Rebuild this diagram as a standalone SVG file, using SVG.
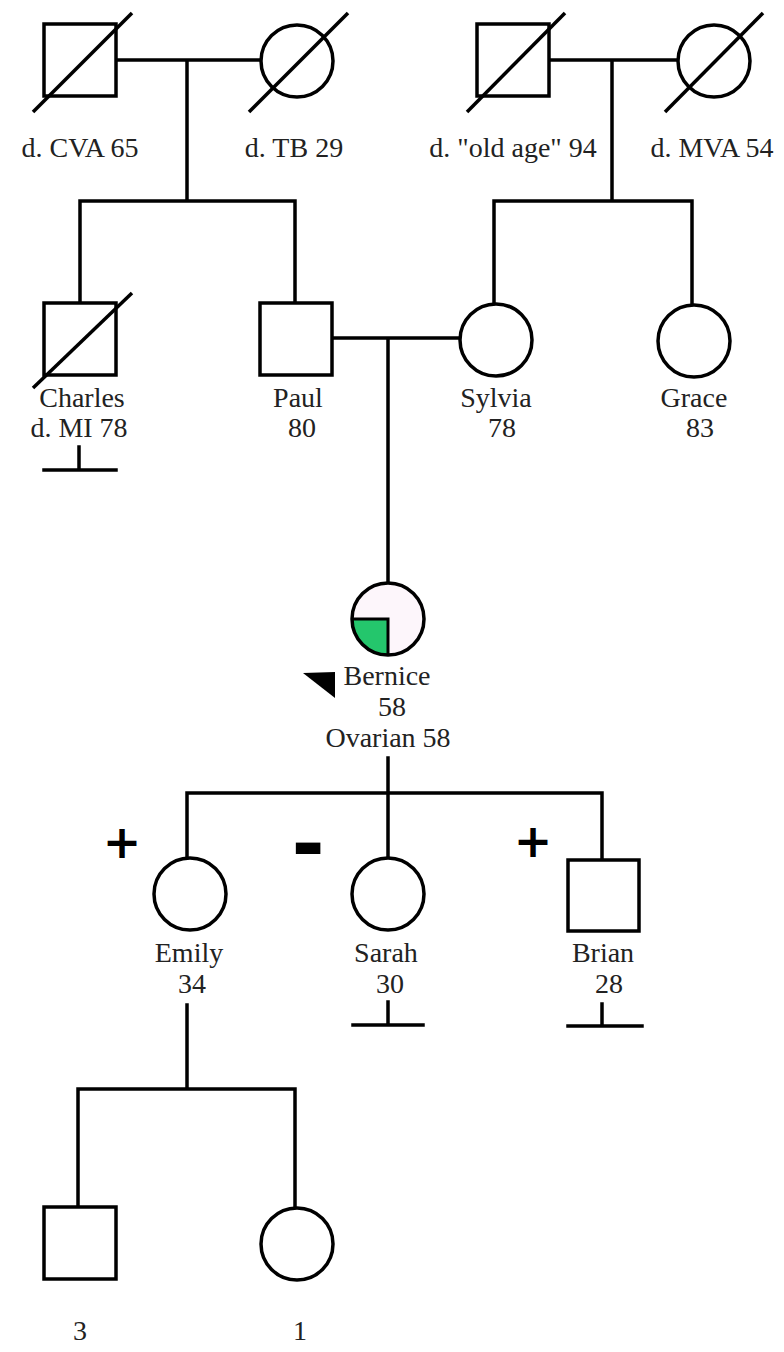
<svg xmlns="http://www.w3.org/2000/svg" width="784" height="1352" viewBox="0 0 784 1352">
  <style>
    .sym { fill: #ffffff; stroke: #000; stroke-width: 3.5; }
    .dead { stroke: #000; stroke-width: 3.5; stroke-linecap: butt; }
    .line { fill: none; stroke: #000; stroke-width: 3.5; stroke-linecap: square; }
    .lbl { font-family: "Liberation Serif", "Times New Roman", serif; font-size: 28px; fill: #222; text-anchor: middle; }
    .mark { font-family: "DejaVu Sans", "Liberation Sans", sans-serif; font-weight: bold; fill: #000; text-anchor: middle; }
  </style>
  <rect width="784" height="1352" fill="#ffffff"/>

  <!-- connectors: couples, sibships, descent lines, no-offspring bars -->
  <g id="connectors" class="line">
    <path d="M116,60 H261 M187,60 V201 M80,201 H295 M80,201 V303 M295,201 V303"/>
    <path d="M549,60 H678 M612,60 V201 M494,201 H692 M494,201 V304 M692,201 V305"/>
    <path d="M332,338 H460 M388,338 V583"/>
    <path d="M79,447 V470 M44,470 H116"/>
    <path d="M388,758 V793 M187,793 H602 M187,793 V858 M388,793 V858 M602,793 V860"/>
    <path d="M388,1002 V1025 M353,1025 H423"/>
    <path d="M602,1004 V1026 M568,1026 H642"/>
    <path d="M187,1005 V1089 M78,1089 H295 M78,1089 V1207 M295,1089 V1208"/>
  </g>

  <!-- generation I -->
  <g id="node-gf-paternal">
    <rect class="sym" x="44" y="24" width="72" height="72"/>
    <line class="dead" x1="33" y1="112" x2="132" y2="13"/>
    <text class="lbl" x="80" y="157">d. CVA 65</text>
  </g>
  <g id="node-gm-paternal">
    <circle class="sym" cx="297" cy="61" r="36"/>
    <line class="dead" x1="249" y1="112" x2="348" y2="13"/>
    <text class="lbl" x="294" y="157">d. TB 29</text>
  </g>
  <g id="node-gf-maternal">
    <rect class="sym" x="477" y="24" width="72" height="72"/>
    <line class="dead" x1="467" y1="112" x2="565" y2="13"/>
    <text class="lbl" x="513" y="157">d. "old age" 94</text>
  </g>
  <g id="node-gm-maternal">
    <circle class="sym" cx="714" cy="61" r="36"/>
    <line class="dead" x1="665" y1="112" x2="763" y2="13"/>
    <text class="lbl" x="712" y="157">d. MVA 54</text>
  </g>

  <!-- generation II -->
  <g id="node-charles">
    <rect class="sym" x="44" y="303" width="72" height="72"/>
    <line class="dead" x1="33" y1="388" x2="132" y2="293"/>
    <text class="lbl" x="82" y="407">Charles</text>
    <text class="lbl" x="79" y="437">d. MI 78</text>
  </g>
  <g id="node-paul">
    <rect class="sym" x="260" y="303" width="72" height="72"/>
    <text class="lbl" x="298" y="407">Paul</text>
    <text class="lbl" x="302" y="437">80</text>
  </g>
  <g id="node-sylvia">
    <circle class="sym" cx="496" cy="340" r="36"/>
    <text class="lbl" x="496" y="407">Sylvia</text>
    <text class="lbl" x="502" y="437">78</text>
  </g>
  <g id="node-grace">
    <circle class="sym" cx="694" cy="341" r="36"/>
    <text class="lbl" x="694" y="407">Grace</text>
    <text class="lbl" x="700" y="437">83</text>
  </g>

  <!-- generation III: proband, lower-left quadrant filled -->
  <g id="node-bernice">
    <circle cx="388" cy="619" r="36" fill="#fdf6fb" stroke="none"/>
    <path d="M388,619 H352 A36,36 0 0,0 388,655 Z" fill="#24c66c"/>
    <path d="M352,619 H388 V655" fill="none" stroke="#000" stroke-width="3"/>
    <circle cx="388" cy="619" r="36" fill="none" stroke="#000" stroke-width="3.5"/>
    <polygon points="303,673 335,672 335,698" fill="#000"/>
    <text class="lbl" x="387" y="685">Bernice</text>
    <text class="lbl" x="392" y="716">58</text>
    <text class="lbl" x="388" y="747">Ovarian 58</text>
  </g>

  <!-- generation IV -->
  <g id="node-emily">
    <circle class="sym" cx="190" cy="894" r="36"/>
    <text class="mark" x="122" y="858" font-size="46">+</text>
    <text class="lbl" x="189" y="962">Emily</text>
    <text class="lbl" x="192" y="993">34</text>
  </g>
  <g id="node-sarah">
    <circle class="sym" cx="388" cy="894" r="36"/>
    <text class="mark" x="308" y="871" font-size="80">-</text>
    <text class="lbl" x="386" y="962">Sarah</text>
    <text class="lbl" x="390" y="993">30</text>
  </g>
  <g id="node-brian">
    <rect class="sym" x="568" y="860" width="71" height="71"/>
    <text class="mark" x="533" y="857" font-size="46">+</text>
    <text class="lbl" x="603" y="962">Brian</text>
    <text class="lbl" x="609" y="993">28</text>
  </g>

  <!-- generation V -->
  <g id="node-sons">
    <rect class="sym" x="44" y="1207" width="72" height="72"/>
    <text class="lbl" x="80" y="1340">3</text>
  </g>
  <g id="node-daughter">
    <circle class="sym" cx="297" cy="1244" r="36"/>
    <text class="lbl" x="300" y="1340">1</text>
  </g>
</svg>
